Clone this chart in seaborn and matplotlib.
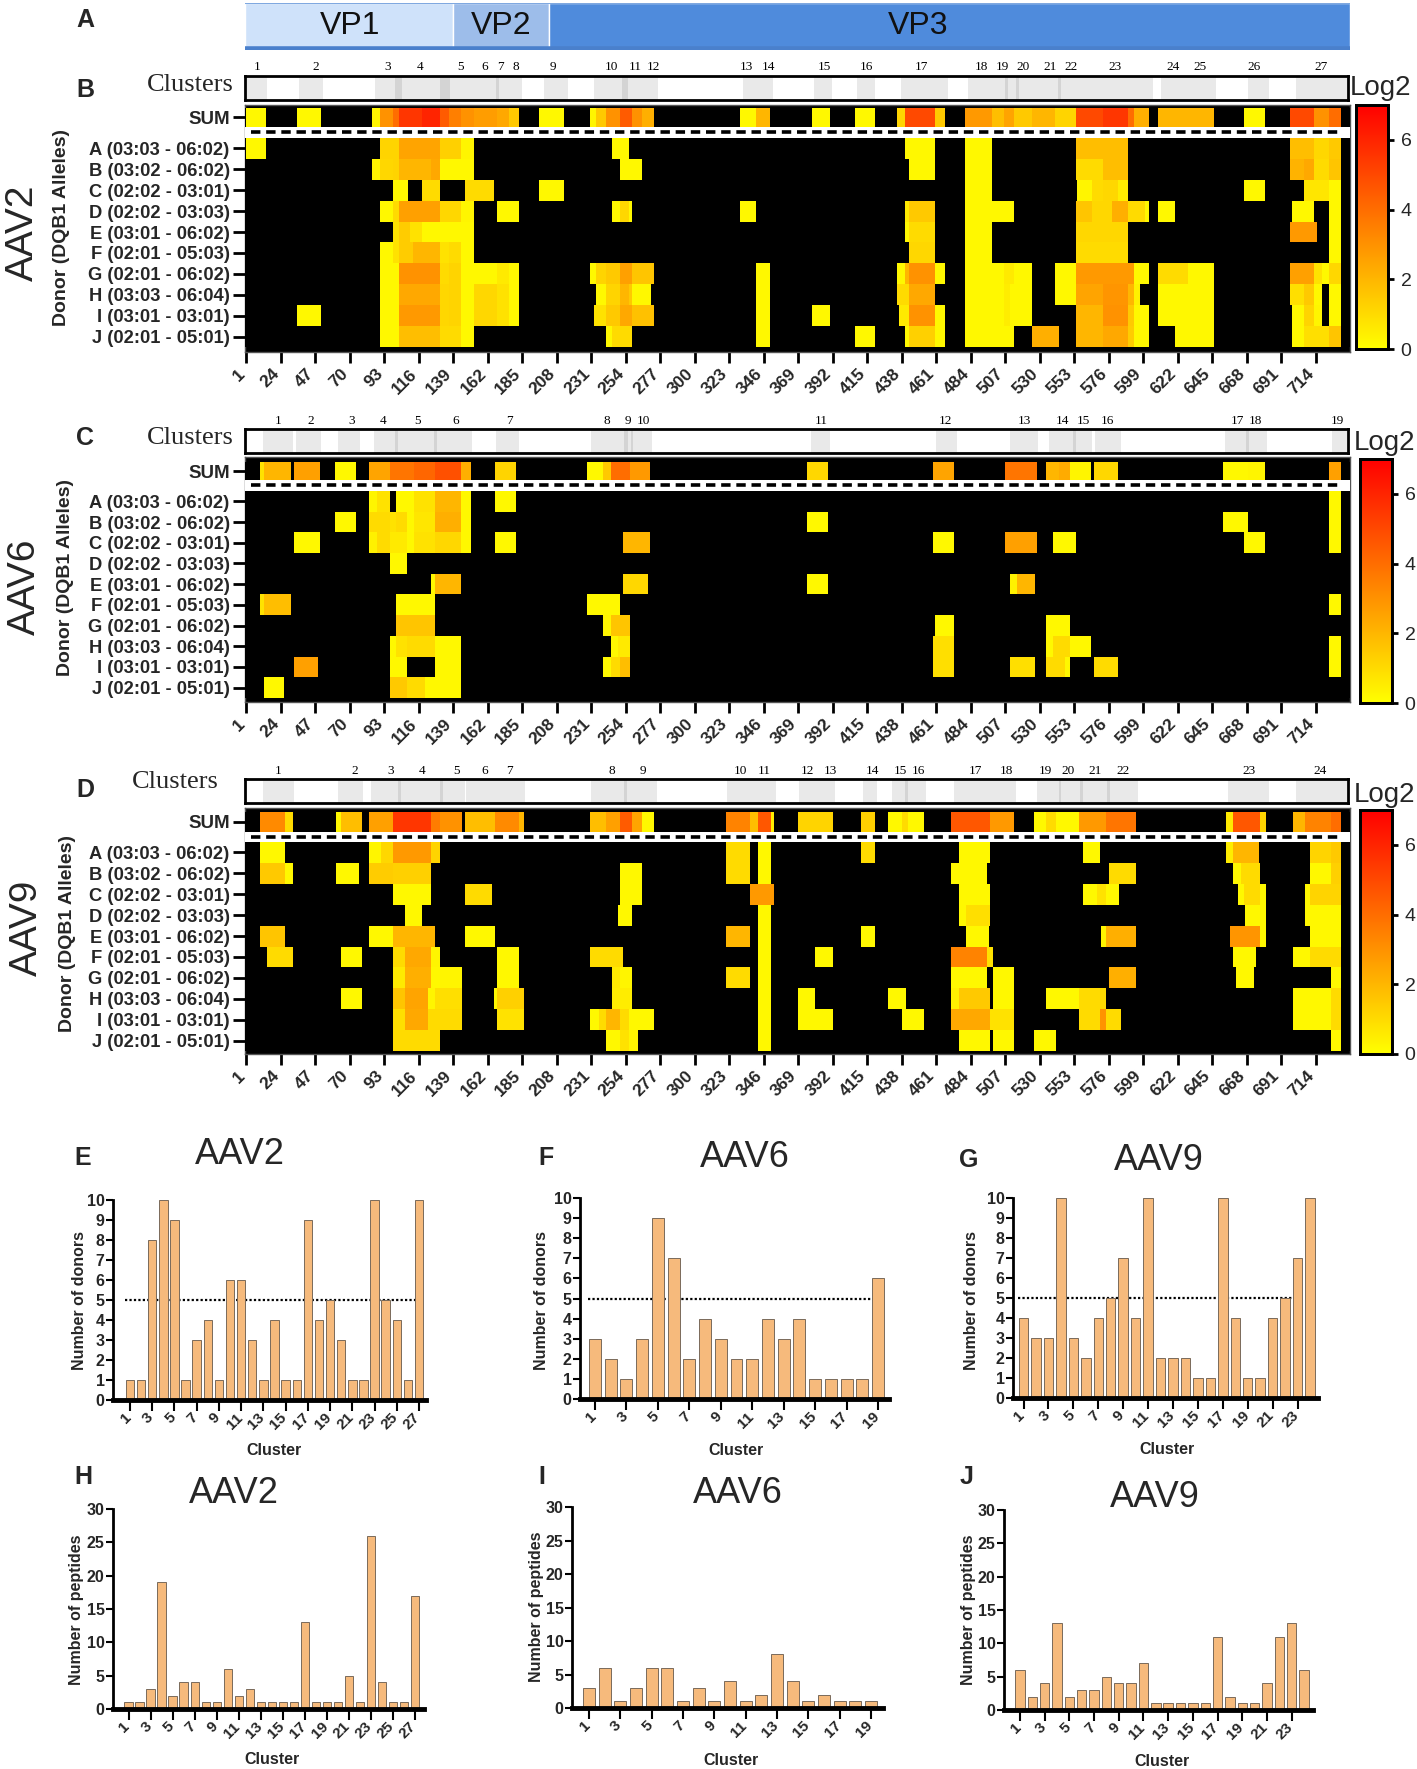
import numpy as np
import pandas as pd
import matplotlib
matplotlib.use("Agg")
import matplotlib.pyplot as plt
from matplotlib.colors import LinearSegmentedColormap
from matplotlib.transforms import ScaledTranslation
import seaborn as sns

sns.set_theme(style="white")
plt.rcParams['font.family'] = ['Liberation Sans', 'DejaVu Sans']

# ---------- data ----------
DONORS = ["A (03:03 - 06:02)", "B (03:02 - 06:02)", "C (02:02 - 03:01)", "D (02:02 - 03:03)",
          "E (03:01 - 06:02)", "F (02:01 - 05:03)", "G (02:01 - 06:02)", "H (03:03 - 06:04)",
          "I (03:01 - 03:01)", "J (02:01 - 05:01)"]
RESIDUE_TICKS = [1, 24, 47, 70, 93, 116, 139, 162, 185, 208, 231, 254, 277, 300, 323, 346, 369, 392,
                 415, 438, 461, 484, 507, 530, 553, 576, 599, 622, 645, 668, 691, 714]
VP_NAMES = ["VP1", "VP2", "VP3"]
VP_STARTS = [0, 139, 203]
VP_ENDS = [139, 203, 737]

# segments: (first residue, end residue, log2 value)
AAV2_SUM = [(1,14,.2),(35,51,.2),(85,90,.3),(90,99,3),(99,103,4),(103,118,5.5),(118,130,6),(130,136,4.5),(136,144,3.5),(144,153,3),(153,168,2.7),(168,176,2.4),(176,183,1.5),(196,213,.2),(230,234,.3),(234,241,1.5),(241,250,3),(250,258,4.5),(258,265,3),(265,273,2.2),(330,341,.2),(341,350,2),(378,390,.2),(407,420,.2),(435,440,1.2),(440,460,5),(460,467,1.5),(480,498,2.8),(498,506,1.8),(506,513,2.5),(513,525,1.5),(525,540,2),(540,554,1.2),(554,572,5),(572,589,5.5),(589,593,4),(593,603,2.2),(609,646,2),(666,680,.2),(697,713,5),(713,723,3),(723,731,4)]
AAV2_A = [(1,14,.2),(90,103,1.2),(103,130,2.5),(130,144,1.3),(144,153,.3),(245,256,.2),(440,460,.2),(480,498,.2),(554,572,1.8),(572,589,1.8),(697,713,1.8),(713,723,1.1),(723,731,1.5)]
AAV2_B = [(85,90,.3),(90,99,1.1),(99,103,1.2),(103,124,2.0),(124,130,2.4),(130,153,.2),(250,265,.2),(443,460,.2),(480,498,.2),(554,572,1.0),(572,589,1.8),(697,706,2.1),(706,713,2.4),(713,723,1.0),(723,731,1.6)]
AAV2_C = [(99,109,.2),(118,130,1.0),(147,166,1.0),(196,213,.2),(480,498,.2),(555,565,.3),(565,572,1.0),(572,582,1.1),(582,589,.5),(666,680,.2),(706,723,.7),(723,731,.2)]
AAV2_D = [(90,99,.2),(99,103,1),(103,130,2.6),(130,144,1.1),(144,153,.3),(168,183,.2),(245,250,.2),(250,256,1.1),(256,258,.2),(330,341,.2),(440,443,.6),(443,460,1.5),(480,513,.2),(554,565,1.6),(565,578,1.1),(578,589,2.2),(589,600,1),(600,603,.2),(609,620,.2),(698,713,.2),(723,731,.2)]
AAV2_E = [(99,103,.8),(103,110,1.4),(110,118,.8),(118,153,.2),(440,443,.2),(443,460,1.0),(480,498,.2),(554,589,1.1),(697,715,2.8),(723,731,.2)]
AAV2_F = [(90,99,.2),(99,103,.8),(103,112,1.4),(112,130,2),(130,136,.8),(136,144,1.0),(144,153,.2),(443,460,1.1),(480,498,.2),(554,589,1.0),(723,731,.2)]
AAV2_G = [(90,103,.2),(103,130,3),(130,136,1.0),(136,144,1.2),(144,168,.2),(168,176,.6),(176,183,.2),(230,234,.2),(234,241,1.2),(241,250,1.5),(250,258,2.6),(258,273,1.6),(341,350,.2),(435,440,.2),(440,443,2),(443,460,3),(460,467,.2),(480,506,.2),(506,513,.6),(513,525,.2),(540,554,.2),(554,593,2.8),(593,603,.2),(609,629,1.0),(629,646,.2),(697,713,2.6),(713,718,.8),(718,723,.2),(723,731,1.1)]
AAV2_H = [(90,103,.2),(103,130,2.4),(130,136,1.1),(136,144,1.2),(144,153,.2),(153,168,1.1),(168,176,.8),(176,183,.2),(234,241,.2),(241,250,1.2),(250,256,2),(256,258,1.5),(258,271,.2),(341,350,.2),(435,443,1),(443,460,2.4),(480,506,.2),(506,510,.5),(510,525,.2),(540,554,.2),(554,572,2.5),(572,589,2.9),(589,593,2),(593,597,.4),(609,646,.2),(697,706,.9),(706,713,1.5),(713,718,.2),(723,731,.2)]
AAV2_I = [(35,51,.2),(90,103,.2),(103,130,2.8),(130,136,1.1),(136,144,1.2),(144,153,.2),(153,168,1.1),(168,176,.8),(176,183,.2),(233,241,.8),(241,250,1.5),(250,258,2.4),(258,273,1.7),(341,350,.2),(378,390,.2),(436,443,.6),(443,460,3),(460,467,.2),(480,506,.2),(506,510,.5),(510,525,.2),(554,572,2),(572,589,3),(589,593,1.5),(593,603,.2),(609,646,.2),(698,706,.2),(706,713,1.2),(713,718,.3),(723,731,.2)]
AAV2_J = [(90,103,.2),(103,130,1.8),(130,144,1.0),(144,153,.2),(241,245,.2),(245,258,1),(341,350,.2),(407,420,.2),(440,443,.2),(443,460,1.3),(460,467,.2),(480,513,.2),(525,543,2.2),(554,572,2),(572,589,2.4),(589,593,1.4),(593,603,.2),(620,646,.2),(698,706,.2),(706,723,.9),(723,731,1.6)]

AAV6_SUM = [(10,13,.8),(13,31,2),(33,50,2.6),(60,74,.2),(83,97,2.5),(97,113,3.8),(113,127,4.2),(127,144,4.8),(144,151,2.2),(167,181,1.2),(228,239,.2),(239,244,1.5),(244,257,4),(257,270,2.8),(375,389,1.1),(459,473,2.5),(507,528,3.8),(534,543,2),(543,550,2.3),(550,564,.3),(566,582,1.1),(652,669,.2),(669,680,.3),(723,731,2.6)]
AAV6_A = [(83,88,.3),(88,97,.8),(101,113,.2),(113,127,.8),(127,144,2),(144,151,.2),(167,181,.2),(723,731,.2)]
AAV6_B = [(60,74,.2),(83,97,1.0),(97,101,.8),(101,108,1),(108,113,.2),(113,127,.7),(127,144,2.2),(144,151,.2),(375,389,.2),(652,669,.2),(723,731,.2)]
AAV6_C = [(33,50,.2),(83,88,.4),(88,97,1),(97,108,.6),(108,113,.2),(113,127,.8),(127,144,1.1),(144,151,.2),(167,181,.2),(252,270,2),(459,473,.2),(507,528,2.6),(539,554,.2),(666,680,.2),(723,731,.2)]
AAV6_D = [(97,108,.2)]
AAV6_E = [(124,127,.2),(127,144,2),(252,269,1.1),(375,389,.2),(510,515,.4),(515,527,2)]
AAV6_F = [(10,13,.8),(13,31,1.8),(101,127,.2),(228,250,.2),(723,731,.2)]
AAV6_G = [(101,127,1.6),(239,244,.3),(244,257,1.6),(460,473,.2),(534,550,.2)]
AAV6_H = [(97,101,.2),(101,108,.8),(108,127,1),(127,144,.2),(244,249,.2),(249,257,.6),(459,473,.9),(534,539,.2),(539,550,1),(550,564,.2),(723,731,.2)]
AAV6_I = [(33,49,2.6),(97,108,.2),(127,144,.2),(239,244,.2),(244,250,1),(250,257,1.8),(459,473,.9),(510,527,.9),(534,547,1),(547,550,.2),(566,582,1),(723,731,.2)]
AAV6_J = [(13,26,.2),(97,108,1.5),(108,120,1),(120,144,.2)]

AAV9_SUM = [(10,27,3.2),(27,32,1),(61,64,.2),(64,78,1.8),(83,99,2.6),(99,124,5.5),(124,130,3.6),(130,145,3),(147,167,1.8),(167,183,3.2),(183,186,2),(230,241,1.8),(241,250,2.6),(250,258,4.5),(258,265,2.5),(265,273,.2),(321,337,3.4),(337,342,1.8),(342,351,4.6),(351,353,.5),(369,392,1.2),(411,420,1.3),(429,438,.2),(438,442,1),(442,453,.2),(471,497,4.6),(497,513,2.8),(526,534,.2),(534,541,1),(541,556,.2),(556,574,2.8),(574,594,3.8),(654,659,.6),(659,677,4.6),(677,681,1.2),(699,707,2),(707,724,3.4),(724,731,4)]
AAV9_A = [(10,27,.2),(83,91,.3),(91,99,1.1),(99,124,2.8),(124,130,1.2),(321,337,1),(342,351,.2),(411,420,1),(476,497,.2),(559,570,.2),(654,659,.5),(659,676,2),(710,724,1.2),(724,731,1.5)]
AAV9_B = [(10,27,1.5),(27,32,.2),(61,76,.2),(83,99,1.4),(99,124,1.3),(250,265,.2),(321,337,1),(342,351,.2),(471,495,.2),(576,594,1),(659,664,.2),(664,677,1),(710,724,.2),(724,731,1.3)]
AAV9_C = [(99,124,.2),(147,165,1),(250,265,.2),(337,353,2.8),(476,497,.2),(559,568,.2),(568,574,.8),(574,583,.2),(662,666,.2),(666,677,1),(677,681,.2),(707,710,.2),(710,731,1.2)]
AAV9_D = [(107,118,.2),(249,258,.2),(342,351,.2),(476,481,.2),(481,497,.9),(667,681,.2),(707,731,.2)]
AAV9_E = [(10,27,1.6),(83,99,.2),(99,127,2),(147,167,.2),(321,337,2),(342,351,.2),(411,420,.2),(481,496,.2),(571,574,.3),(574,594,2.2),(657,677,2.9),(677,681,.2),(710,731,.2)]
AAV9_F = [(15,32,1),(64,78,.2),(99,107,1),(107,124,2.4),(124,130,.3),(168,183,.2),(230,252,1),(342,351,.2),(380,392,.2),(471,495,3.4),(495,499,.8),(659,674,.2),(699,710,.2),(710,731,1)]
AAV9_G = [(99,107,.6),(107,124,2.2),(124,130,.2),(130,145,.3),(168,183,.2),(245,250,.6),(250,258,.3),(321,337,1),(342,351,.2),(471,495,.2),(499,513,.2),(576,594,2.2),(661,673,.2),(724,731,.2)]
AAV9_H = [(64,78,.2),(99,107,1.6),(107,122,2.5),(122,127,.3),(127,145,.9),(166,168,.2),(168,186,1.3),(245,258,.5),(342,351,.2),(369,380,.2),(429,441,.2),(471,476,.4),(476,497,1.5),(499,513,.2),(534,556,.2),(556,574,1),(699,724,.2),(724,731,1)]
AAV9_I = [(99,107,.9),(107,122,2.4),(122,130,1),(130,145,1),(168,186,.8),(230,236,.2),(236,241,1),(241,250,2),(250,256,1),(256,273,.2),(342,351,.2),(369,392,.2),(438,453,.2),(471,497,2.4),(497,513,.8),(556,570,1),(570,574,3),(574,584,1),(699,724,.2),(724,731,1)]
AAV9_J = [(99,130,1),(241,250,.2),(250,256,.8),(256,262,.3),(342,351,.2),(476,497,.2),(499,513,.2),(526,541,.2),(724,731,.2)]

AAV2_CLUSTERS = [(1,15),(36,52),(87,105),(100,137),(130,148),(148,170),(168,179),(179,185),(200,216),(233,256),(252,268),(268,276),(333,344),(344,353),(380,392),(409,421),(438,470),(483,510),(508,517),(515,530),(530,545),(543,557),(557,607),(612,632),(632,649),(670,684),(702,737)]
AAV2_CLUSTER_POS = [8,47,95,117,144,160,171,181,206,245,261,273,335,350,387,415,452,492,506,520,538,552,581,620,638,674,719]
AAV6_CLUSTERS = [(12,32),(34,51),(62,77),(86,102),(100,128),(126,152),(168,183),(231,256),(253,259),(258,272),(378,391),(462,476),(511,530),(537,555),(553,566),(568,585),(655,671),(669,683),(726,736)]
AAV6_CLUSTER_POS = [22,44,71,92,115,141,177,242,256,266,385,468,521,546,560,576,663,675,730]
AAV9_CLUSTERS = [(12,33),(62,79),(84,104),(102,132),(130,147),(148,168),(168,187),(231,255),(253,275),(322,338),(338,355),(370,384),(384,394),(413,422),(432,443),(441,455),(474,501),(501,515),(529,545),(544,560),(558,578),(576,597),(657,684),(702,736)]
AAV9_CLUSTER_POS = [22,73,97,118,141,160,177,245,266,331,347,376,391,419,438,450,488,509,535,550,568,587,671,718]

DONORS_AAV2 = [1,1,8,10,9,1,3,4,1,6,6,3,1,4,1,1,9,4,5,3,1,1,10,5,4,1,10]
DONORS_AAV6 = [3,2,1,3,9,7,2,4,3,2,2,4,3,4,1,1,1,1,6]
DONORS_AAV9 = [4,3,3,10,3,2,4,5,7,4,10,2,2,2,1,1,10,4,1,1,4,5,7,10]
PEPTIDES_AAV2 = [1,1,3,19,2,4,4,1,1,6,2,3,1,1,1,1,13,1,1,1,5,1,26,4,1,1,17]
PEPTIDES_AAV6 = [3,6,1,3,6,6,1,3,1,4,1,2,8,4,1,2,1,1,1]
PEPTIDES_AAV9 = [6,2,4,13,2,3,3,5,4,4,7,1,1,1,1,1,11,2,1,1,4,11,13,6]

# ---------- helpers ----------
W, H = 1417, 1769
fig = plt.figure(figsize=(W/100, H/100), dpi=100, facecolor="white")
FONT = "Liberation Sans"
SERIF = "Liberation Serif"
cmap = LinearSegmentedColormap.from_list("yr", ["#ffff00", "#ff0000"])
XLIM = (0, 737)


def add_ax(left, top, right, bottom, **kw):
    return fig.add_axes([left/W, 1-bottom/H, (right-left)/W, (bottom-top)/H], **kw)


def txt(x, y, s, **kw):
    kw.setdefault("ha", "center")
    kw.setdefault("va", "center")
    kw.setdefault("family", FONT)
    fig.text(x/W, 1-y/H, s, **kw)


def to_matrix(rows):
    m = np.full((len(rows), XLIM[1]), np.nan)
    for i, segs in enumerate(rows):
        for a, b, v in segs:
            m[i, a:b] = v
    return m


def shift_labels(ax, px):
    offset = ScaledTranslation(px/100, 0, fig.dpi_scale_trans)
    for lab in ax.get_xticklabels():
        lab.set_transform(lab.get_transform() + offset)


def heat_panel(g, sum_row, rows, clusters, cluster_pos):
    # frame with residue ticks
    bg = add_ax(g["x0"], g["top"], g["x1"], g["bottom"], facecolor="black")
    bg.set_xlim(*XLIM)
    bg.set_yticks([])
    bg.set_xticks(RESIDUE_TICKS)
    bg.set_xticklabels(RESIDUE_TICKS, rotation=45, ha="right", va="center", rotation_mode="anchor",
                       family=FONT, weight="bold", fontsize=12.5)
    bg.tick_params(axis="x", length=8, width=2, color="black", pad=6, bottom=True)
    shift_labels(bg, -4)
    for s in bg.spines.values():
        s.set_color("#555555"); s.set_linewidth(1)

    cax = add_ax(g["cx0"], g["ctop"], g["cx1"], g["cbottom"])
    s_ax = add_ax(g["x0"], g["sum_top"], g["x1"], g["sum_bottom"])
    sns.heatmap(to_matrix([sum_row]), ax=s_ax, cmap=cmap, vmin=0, vmax=7, cbar=False,
                xticklabels=False, yticklabels=False)
    s_ax.set_facecolor("black")
    s_ax.set_yticks([0.5]); s_ax.set_yticklabels(["SUM"], family=FONT, weight="bold", fontsize=13.5, rotation=0)
    s_ax.tick_params(axis="y", length=9, width=2, color="black", pad=2, left=True)

    r_ax = add_ax(g["x0"], g["band_bottom"], g["x1"], g["row_bottom"])
    sns.heatmap(to_matrix(rows), ax=r_ax, cmap=cmap, vmin=0, vmax=7, cbar=True, cbar_ax=cax,
                cbar_kws={"ticks": [0, 2, 4, 6]}, xticklabels=False, yticklabels=False)
    r_ax.set_facecolor("black")
    r_ax.set_yticks(np.arange(len(DONORS)) + 0.5)
    r_ax.set_yticklabels(DONORS, family=FONT, weight="bold", fontsize=13.2, rotation=0)
    r_ax.tick_params(axis="y", length=9, width=2, color="black", pad=2, left=True)

    cax.tick_params(labelsize=14, length=4, width=2, color="black", pad=5, right=True, labelfontfamily=FONT)
    for s in cax.spines.values():
        s.set_visible(True); s.set_color("black"); s.set_linewidth(2)

    # white separator with dashed line
    b_ax = add_ax(g["x0"], g["sum_bottom"], g["x1"], g["band_bottom"], facecolor="white")
    b_ax.set_xlim(*XLIM); b_ax.set_ylim(0, 1); b_ax.axis("off")
    b_ax.add_patch(plt.Rectangle((0, 0), 1, 1, transform=b_ax.transAxes, color="white"))
    b_ax.axhline(0.5, xmin=0.005, xmax=0.992, color="black", lw=2.6, linestyle=(0, (2.6, 1.6)))

    # cluster strip
    c_ax = add_ax(g["x0"], g["strip_top"], g["x1"]-2, g["strip_bottom"], facecolor="white")
    c_ax.set_xlim(*XLIM); c_ax.set_ylim(0, 1); c_ax.set_xticks([]); c_ax.set_yticks([])
    for a, b in clusters:
        c_ax.axvspan(a, b, color="black", alpha=0.085, lw=0)
    for s in c_ax.spines.values():
        s.set_color("black"); s.set_linewidth(2)
    for i, p in enumerate(cluster_pos):
        c_ax.text(p, 1 + 8.5/(g["strip_bottom"]-g["strip_top"]), str(i+1), ha="center", va="center",
                  family=SERIF, fontsize=9.5, color="black", clip_on=False)


layouts = [
    dict(x0=245, x1=1350, top=105, bottom=352, sum_top=108, sum_bottom=127, band_bottom=138, row_bottom=347,
         strip_top=76, strip_bottom=100, cx0=1356, cx1=1388, ctop=105, cbottom=349),
    dict(x0=245, x1=1350, top=457, bottom=702, sum_top=462, sum_bottom=480, band_bottom=491, row_bottom=698,
         strip_top=429, strip_bottom=453, cx0=1360, cx1=1392, ctop=459, cbottom=703),
    dict(x0=245, x1=1350, top=808, bottom=1054, sum_top=812, sum_bottom=832, band_bottom=842, row_bottom=1051,
         strip_top=779, strip_bottom=803, cx0=1360, cx1=1392, ctop=810, cbottom=1054),
]
heat_panel(layouts[0], AAV2_SUM, [AAV2_A, AAV2_B, AAV2_C, AAV2_D, AAV2_E, AAV2_F, AAV2_G, AAV2_H, AAV2_I, AAV2_J],
           AAV2_CLUSTERS, AAV2_CLUSTER_POS)
heat_panel(layouts[1], AAV6_SUM, [AAV6_A, AAV6_B, AAV6_C, AAV6_D, AAV6_E, AAV6_F, AAV6_G, AAV6_H, AAV6_I, AAV6_J],
           AAV6_CLUSTERS, AAV6_CLUSTER_POS)
heat_panel(layouts[2], AAV9_SUM, [AAV9_A, AAV9_B, AAV9_C, AAV9_D, AAV9_E, AAV9_F, AAV9_G, AAV9_H, AAV9_I, AAV9_J],
           AAV9_CLUSTERS, AAV9_CLUSTER_POS)

# VP bar
vp = add_ax(245, 3, 1350, 50)
vp.barh([0], VP_ENDS[0] - VP_STARTS[0], left=VP_STARTS[0], height=1, color="#cfe2fa")
vp.barh([0], VP_ENDS[1] - VP_STARTS[1], left=VP_STARTS[1], height=1, color="#9dbdea")
vp.barh([0], VP_ENDS[2] - VP_STARTS[2], left=VP_STARTS[2], height=1, color="#4f8bdc")
vp.set_xlim(*XLIM); vp.set_ylim(-0.5, 0.5); vp.set_xticks([]); vp.set_yticks([])
for s in vp.spines.values():
    s.set_visible(False)
vp.axhline(-0.47, color="#4a80cc", lw=4)
vp.axhline(0.49, color="#7fa8e0", lw=1.5)
for name, c in zip(VP_NAMES, [70, 171, 449]):
    vp.text(c, 0, name, ha="center", va="center", family=FONT, fontsize=23, color="#111111")

# Heat panel annotations
for lab, x, y in [("A", 85, 20), ("B", 85, 90), ("C", 85, 438), ("D", 85, 790),
                  ("E", 83, 1158), ("F", 546, 1158), ("G", 969, 1160),
                  ("H", 83, 1477), ("I", 542, 1477), ("J", 967, 1477)]:
    txt(x, y, lab, fontsize=18, weight="bold")
for x, y in [(190, 85), (190, 438), (175, 782)]:
    txt(x, y, "Clusters", family=SERIF, fontsize=19)
for name, x, y in [("AAV2", 23, 233), ("AAV6", 25, 587), ("AAV9", 27, 928)]:
    txt(x, y, name, fontsize=28, rotation=90)
for x, y in [(62, 228), (65, 577), (68, 933)]:
    txt(x, y, "Donor (DQB1 Alleles)", fontsize=14, weight="bold", rotation=90)
for x, y in [(1381, 88), (1385, 443), (1385, 795)]:
    txt(x, y, "Log2", fontsize=20)


# Bar panels
def bar_panel(left, top, right, bottom, first, last, values, ymax, yticks, ylabel, hline_end):
    ax = add_ax(left, top, right, bottom, facecolor="white")
    cats = [str(i+1) for i in range(len(values))]
    df = pd.DataFrame({"Cluster": cats, "n": values})
    sns.barplot(data=df, x="Cluster", y="n", order=cats, color="#f6ba7c", saturation=1, width=0.76,
                edgecolor="#7a6a5a", linewidth=0.7, ax=ax, zorder=2)
    step = (last - first) / (len(values) - 1)
    ax.set_xlim(-(first-left)/step, (right-first)/step)
    ax.set_ylim(0, ymax)
    ax.set_xlabel(""); ax.set_ylabel("")
    ax.set_xticks(range(0, len(values), 2))
    ax.set_xticklabels(cats[::2], rotation=45, ha="right", va="center", rotation_mode="anchor",
                       family=FONT, weight="bold", fontsize=11)
    ax.set_yticks(yticks)
    ax.set_yticklabels(yticks, family=FONT, weight="bold", fontsize=11.5)
    ax.tick_params(axis="x", length=8, width=1.5, color="black", pad=3, bottom=True)
    ax.tick_params(axis="y", length=5, width=1.5, color="black", pad=1, left=True)
    shift_labels(ax, -1)
    for side in ("top", "right"):
        ax.spines[side].set_visible(False)
    ax.spines["left"].set_color("black"); ax.spines["left"].set_linewidth(2)
    ax.spines["bottom"].set_color("black"); ax.spines["bottom"].set_linewidth(3.5)
    if hline_end is not None:
        ax.hlines(5, -0.45, hline_end, color="black", linestyle=(0, (1, 1)), lw=1.6, zorder=1)
    return ax


bars = [
    (113, 1200, 426, 1400, 130, 419, DONORS_AAV2, 10, list(range(11)), "Number of donors", 26),
    (580, 1198, 889, 1399, 595, 878, DONORS_AAV6, 10, list(range(11)), "Number of donors", 18.3),
    (1013, 1198, 1318, 1398, 1023.5, 1310, DONORS_AAV9, 10, list(range(11)), "Number of donors", 22),
    (113, 1509, 424, 1709, 128.6, 415, PEPTIDES_AAV2, 30, list(range(0, 31, 5)), "Number of peptides", None),
    (572, 1507, 883, 1708, 589, 871, PEPTIDES_AAV6, 30, list(range(0, 31, 5)), "Number of peptides", None),
    (1004, 1510, 1313, 1710, 1020, 1304, PEPTIDES_AAV9, 30, list(range(0, 31, 5)), "Number of peptides", None),
]
for b in bars:
    bar_panel(*b)

for name, x, y in [("AAV2", 240, 1155), ("AAV6", 745, 1157), ("AAV9", 1159, 1160),
                   ("AAV2", 234, 1493), ("AAV6", 738, 1493), ("AAV9", 1155, 1497)]:
    txt(x, y, name, fontsize=26)
for s, x, y in [("Number of donors", 80, 1300), ("Number of donors", 542, 1300), ("Number of donors", 972, 1300),
                ("Number of peptides", 77, 1610), ("Number of peptides", 536, 1607), ("Number of peptides", 969, 1610)]:
    txt(x, y, s, fontsize=11.5, weight="bold", rotation=90)
for x, y in [(274, 1450), (736, 1450), (1167, 1449), (272, 1759), (731, 1760), (1162, 1761)]:
    txt(x, y, "Cluster", fontsize=11.5, weight="bold")

fig.savefig("out.png", dpi=100, facecolor="white")
